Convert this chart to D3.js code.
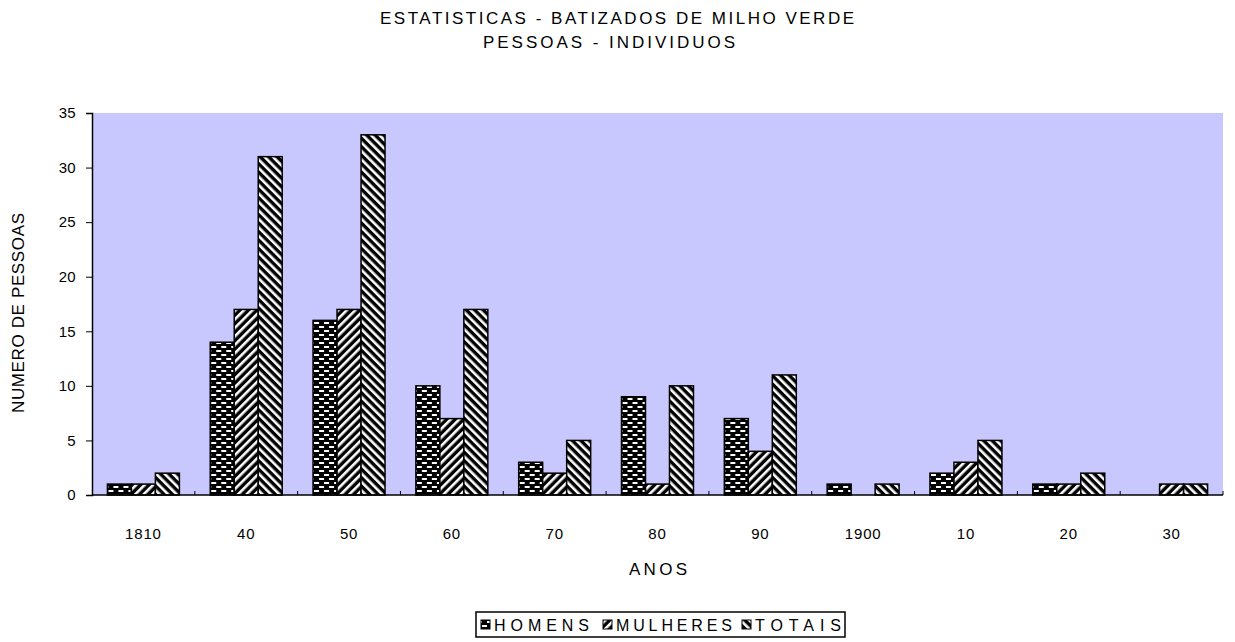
<!DOCTYPE html>
<html>
<head>
<meta charset="utf-8">
<script src="https://cdn.jsdelivr.net/npm/d3@7"></script>
<style>
  body { margin: 0; background: #fff; }
  text { font-family: "Liberation Sans", Arial, sans-serif; fill: #000; }
</style>
</head>
<body>
<svg id="chart" width="1235" height="642"></svg>
<script>
// data
var anos = ["1810", "40", "50", "60", "70", "80", "90", "1900", "10", "20", "30"];
var homens = [1, 14, 16, 10, 3, 9, 7, 1, 2, 1, 0];
var mulheres = [1, 17, 17, 7, 2, 1, 4, 0, 3, 1, 1];
var totais = [2, 31, 33, 17, 5, 10, 11, 1, 5, 2, 1];
var seriesNames = ["HOMENS", "MULHERES", "TOTAIS"];
var yTicks = [0, 5, 10, 15, 20, 25, 30, 35];

var svg = d3.select("#chart");
var margin = {left: 92, right: 12, top: 113, bottom: 147};
var width = 1235 - margin.left - margin.right;
var height = 642 - margin.top - margin.bottom;

// patterns (hatch fills like the old spreadsheet chart)
var defs = svg.append("defs");

var pH = defs.append("pattern").attr("id", "pat0")
    .attr("patternUnits", "userSpaceOnUse").attr("width", 10).attr("height", 8);
pH.append("rect").attr("width", 10).attr("height", 8).attr("fill", "#000");
pH.append("rect").attr("x", 1).attr("y", 1).attr("width", 5).attr("height", 2).attr("fill", "#fff");
pH.append("rect").attr("x", 6).attr("y", 5).attr("width", 5).attr("height", 2).attr("fill", "#fff");
pH.append("rect").attr("x", -4).attr("y", 5).attr("width", 5).attr("height", 2).attr("fill", "#fff");

function stripes(id, angle) {
    var p = defs.append("pattern").attr("id", id)
        .attr("patternUnits", "userSpaceOnUse").attr("width", 6).attr("height", 6)
        .attr("patternTransform", "rotate(" + angle + ")");
    p.append("rect").attr("width", 6).attr("height", 6).attr("fill", "#000");
    p.append("rect").attr("x", 0).attr("y", 0).attr("width", 2.6).attr("height", 6).attr("fill", "#fff");
}
stripes("pat1", 45);
stripes("pat2", -45);

var g = svg.append("g").attr("transform", "translate(" + margin.left + "," + margin.top + ")");

g.append("rect").attr("width", width).attr("height", height).attr("fill", "#c8c8ff");

var x = d3.scaleBand().domain(anos).range([0, width]).paddingInner(0.3).paddingOuter(0.15);
var xs = d3.scaleBand().domain(seriesNames).range([0, x.bandwidth()]);
var y = d3.scaleLinear().domain([0, 35]).range([height, 0]);

var table = anos.map(function (a, i) {
    return {ano: a, vals: [homens[i], mulheres[i], totais[i]]};
});

var groups = g.selectAll(".grp").data(table).enter().append("g")
    .attr("transform", function (d) { return "translate(" + x(d.ano) + ",0)"; });

groups.selectAll("rect").data(function (d) {
    return d.vals.map(function (v, k) { return {name: seriesNames[k], k: k, v: v}; });
}).enter().filter(function (d) { return d.v > 0; }).append("rect")
    .attr("x", function (d) { return xs(d.name); })
    .attr("y", function (d) { return y(d.v); })
    .attr("width", xs.bandwidth())
    .attr("height", function (d) { return height - y(d.v); })
    .attr("fill", function (d) { return "url(#pat" + d.k + ")"; })
    .attr("stroke", "#000").attr("stroke-width", 1.5);

// y axis
var yAxis = g.append("g").call(d3.axisLeft(y).tickValues(yTicks).tickSize(6).tickPadding(10));
yAxis.select(".domain").attr("stroke", "#000").attr("stroke-width", 1.5);
yAxis.selectAll("text").attr("font-size", 15).attr("letter-spacing", 0.3);

// x axis: line with small inside ticks at category boundaries
var xAxis = g.append("g").attr("transform", "translate(0," + height + ")");
xAxis.append("line").attr("x1", 0).attr("x2", width).attr("stroke", "#000").attr("stroke-width", 1.5);
xAxis.selectAll(".tk").data(anos.slice(1).concat(["end"])).enter().append("line")
    .attr("x1", function (d, i) { return x.step() * (i + 1); })
    .attr("x2", function (d, i) { return x.step() * (i + 1); })
    .attr("y1", 0).attr("y2", -4).attr("stroke", "#000");
xAxis.selectAll(".lbl").data(anos).enter().append("text")
    .attr("x", function (d) { return x(d) + x.bandwidth() / 2; })
    .attr("y", 44).attr("text-anchor", "middle")
    .attr("font-size", 15).attr("letter-spacing", 0.8)
    .text(function (d) { return d; });

// titles (stretched to the width they take in the original)
function label(txt, xx, yy, len, rot) {
    var t = svg.append("text").attr("text-anchor", "middle")
        .attr("font-size", 17).attr("textLength", len).attr("lengthAdjust", "spacing")
        .text(txt);
    if (rot) t.attr("transform", "translate(" + xx + "," + yy + ") rotate(-90)");
    else t.attr("x", xx).attr("y", yy);
}
label("ESTATISTICAS - BATIZADOS DE MILHO VERDE", 617, 24, 474);
label("PESSOAS - INDIVIDUOS", 609, 48, 252);
label("ANOS", 658, 575, 58);
label("NUMERO DE PESSOAS", 24, 313, 200, true);

// legend
var leg = svg.append("g").attr("transform", "translate(476,612)");
leg.append("rect").attr("width", 369).attr("height", 25).attr("fill", "#fff")
    .attr("stroke", "#000").attr("stroke-width", 1.5);
var legX = [5, 127, 266];
var legLen = [95, 116, 86];
seriesNames.forEach(function (n, k) {
    leg.append("rect").attr("x", legX[k]).attr("y", 8).attr("width", 9).attr("height", 9)
        .attr("fill", "url(#pat" + k + ")").attr("stroke", "#000");
    leg.append("text").attr("x", legX[k] + 13).attr("y", 19)
        .attr("font-size", 16).attr("textLength", legLen[k]).attr("lengthAdjust", "spacing")
        .text(n);
});
</script>
</body>
</html>
